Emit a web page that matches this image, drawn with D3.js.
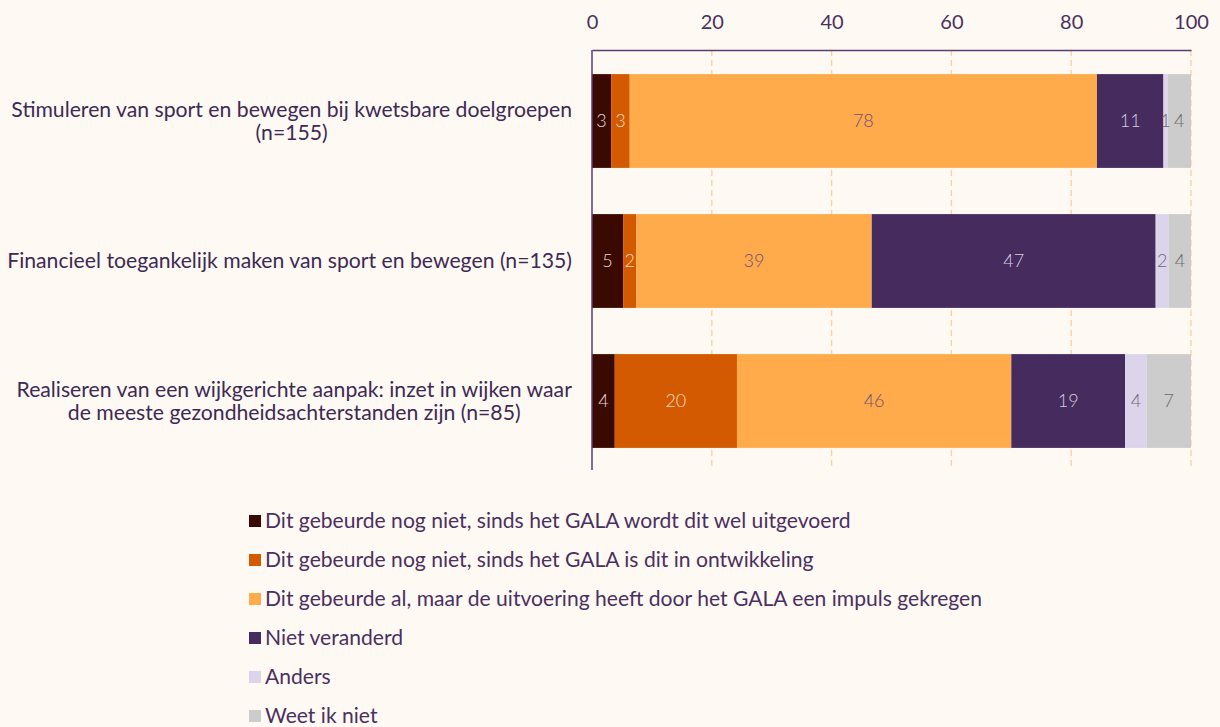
<!DOCTYPE html>
<html>
<head>
<meta charset="utf-8">
<script src="https://cdn.jsdelivr.net/npm/d3@7"></script>
<style>
  body { margin: 0; background: #fff9f3; }
  svg { display: block; font-family: Lato, "Open Sans", sans-serif; }
</style>
</head>
<body>
<svg id="chart" width="1220" height="727"></svg>
<script>
// categories (each entry is the lines of the label)
var categories = [
    ["Stimuleren van sport en bewegen bij kwetsbare doelgroepen", "(n=155)"],
    ["Financieel toegankelijk maken van sport en bewegen (n=135)"],
    ["Realiseren van een wijkgerichte aanpak: inzet in wijken waar", "de meeste gezondheidsachterstanden zijn (n=85)"]
];
var seriesNames = [
    "Dit gebeurde nog niet, sinds het GALA wordt dit wel uitgevoerd",
    "Dit gebeurde nog niet, sinds het GALA is dit in ontwikkeling",
    "Dit gebeurde al, maar de uitvoering heeft door het GALA een impuls gekregen",
    "Niet veranderd",
    "Anders",
    "Weet ik niet"
];
// percentages per category, one array per series
var uitgevoerd   = [3.2, 5.2, 3.8];
var ontwikkeling = [3.1, 2.2, 20.4];
var impuls       = [78.0, 39.3, 45.8];
var nietVeranderd = [11.1, 47.4, 19.0];
var anders       = [0.7, 2.2, 3.6];
var weetNiet     = [3.9, 3.7, 7.4];
var tickValues = [0, 20, 40, 60, 80, 100];

var colors = ["#3a0a00", "#d35a00", "#ffab4c", "#462b5e", "#dcd4ea", "#cccccc"];
var labelColors = ["#e6d8dc", "#f6dcc8", "#6e4f72", "#d8cde0", "#6a6a72", "#6a6a6a"];

var seriesValues = [uitgevoerd, ontwikkeling, impuls, nietVeranderd, anders, weetNiet];
var rows = categories.map(function (c, i) {
    var r = { idx: i };
    seriesNames.forEach(function (s, j) { r[s] = seriesValues[j][i]; });
    return r;
});

var svg = d3.select("#chart");
var mLeft = 592, mRight = 1191, mTop = 50, mBottom = 470;
var purple = "#4a3060";

var x = d3.scaleLinear().domain([0, 100]).range([mLeft, mRight]);
var y = d3.scaleBand().domain(d3.range(categories.length)).range([mTop + 1, mBottom + 1])
    .paddingInner(0.33).paddingOuter(0.165);

// gridlines
svg.append("g").selectAll("line")
    .data(tickValues.filter(function (d) { return d > 0; }))
    .enter().append("line")
    .attr("x1", function (d) { return x(d); })
    .attr("x2", function (d) { return x(d); })
    .attr("y1", mTop).attr("y2", mBottom)
    .attr("stroke", "#fdcf9e")
    .attr("stroke-width", 1.3)
    .attr("stroke-dasharray", "6,4");

// stacked bars
var stack = d3.stack().keys(seriesNames)(rows);
var layers = svg.append("g").selectAll("g")
    .data(stack).enter().append("g")
    .attr("fill", function (d, i) { return colors[i]; });

layers.selectAll("rect")
    .data(function (d) { return d; })
    .enter().append("rect")
    .attr("x", function (d) { return x(d[0]); })
    .attr("width", function (d) { return x(d[1]) - x(d[0]); })
    .attr("y", function (d) { return y(d.data.idx); })
    .attr("height", y.bandwidth());

// value labels
stack.forEach(function (layer, i) {
    svg.append("g").selectAll("text")
        .data(layer).enter().append("text")
        .attr("x", function (d) { return (x(d[0]) + x(d[1])) / 2; })
        .attr("y", function (d) { return y(d.data.idx) + y.bandwidth() / 2; })
        .attr("dy", "0.35em")
        .attr("text-anchor", "middle")
        .attr("font-size", 18)
        .attr("font-weight", 300)
        .attr("fill", labelColors[i])
        .text(function (d) { return Math.round(d[1] - d[0]); });
});

// axes lines
var axis = d3.axisTop(x).tickValues(tickValues).tickSize(0).tickPadding(0);
var ax = svg.append("g").attr("transform", "translate(0," + mTop + ")").call(axis);
ax.select(".domain").attr("stroke", "#5a3e72").attr("stroke-width", 1.5);
ax.selectAll("text")
    .attr("y", -28)
    .attr("dy", "0.35em")
    .attr("font-family", "Lato, sans-serif")
    .attr("font-size", 20)
    .attr("fill", purple);

svg.append("line")
    .attr("x1", mLeft).attr("x2", mLeft)
    .attr("y1", mTop).attr("y2", mBottom)
    .attr("stroke", "#5a3e72").attr("stroke-width", 1.5);

// category labels: block right-aligned, lines centred in block
var catG = svg.append("g");
categories.forEach(function (lines, i) {
    var cy = y(i) + y.bandwidth() / 2;
    var lineH = 23.5;
    var t = catG.append("text")
        .attr("font-size", 21.2)
        .attr("fill", "#3d2a55")
        .attr("text-anchor", "middle");
    lines.forEach(function (l, k) {
        t.append("tspan")
            .attr("x", 0)
            .attr("y", cy + (k - (lines.length - 1) / 2) * lineH)
            .attr("dy", "0.35em")
            .text(l);
    });
    var w = t.node().getBBox().width;
    t.attr("transform", "translate(" + (572 - w / 2) + ",0)");
});

// legend
var legend = svg.append("g").selectAll("g")
    .data(seriesNames).enter().append("g")
    .attr("transform", function (d, i) { return "translate(249," + (521 + i * 39) + ")"; });
legend.append("rect")
    .attr("x", 0).attr("y", -6)
    .attr("width", 12).attr("height", 12)
    .attr("fill", function (d, i) { return colors[i]; });
legend.append("text")
    .attr("x", 16)
    .attr("dy", "0.35em")
    .attr("font-size", 21.1)
    .attr("fill", purple)
    .text(function (d) { return d; });
</script>
</body>
</html>
